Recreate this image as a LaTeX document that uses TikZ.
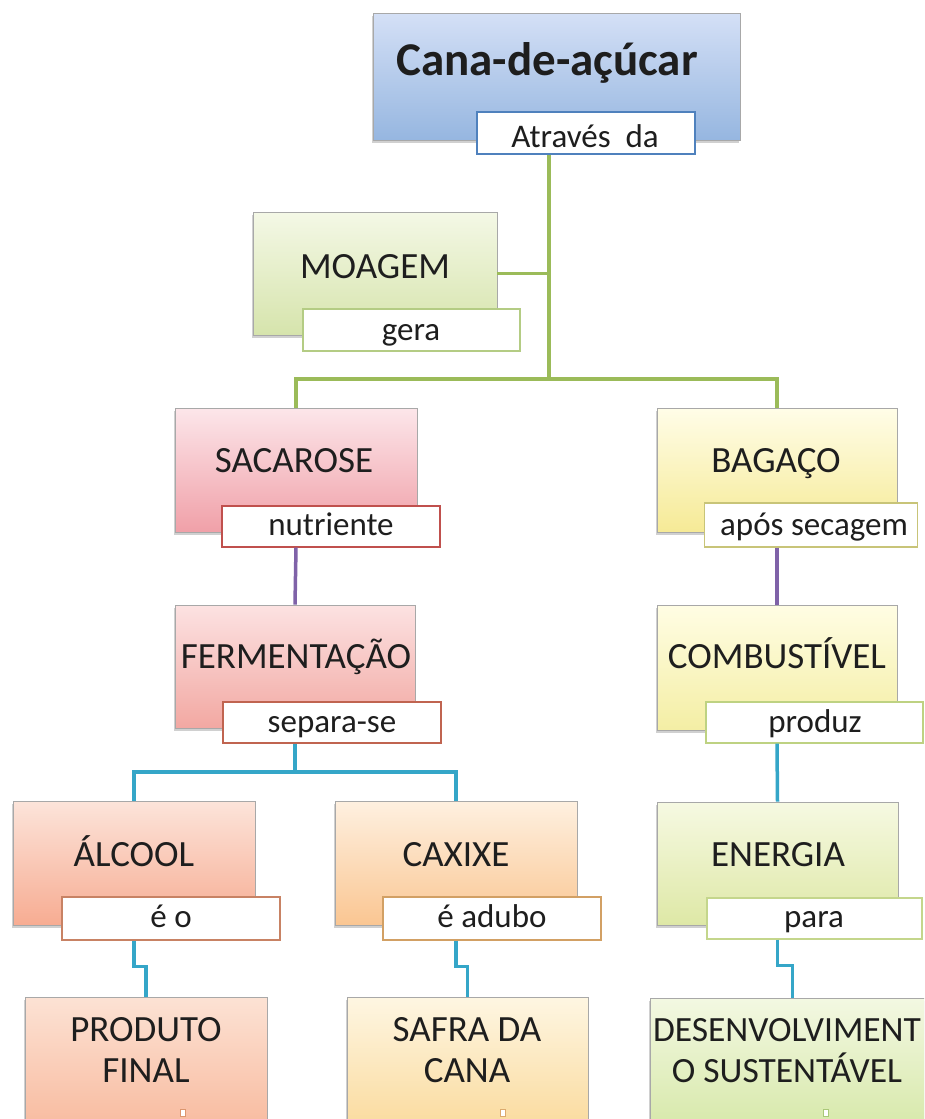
\documentclass[tikz,border=0pt]{standalone}
\usepackage{fontspec}
\setmainfont{Carlito}
\usetikzlibrary{shadows,calc}
\definecolor{boxgray}{HTML}{A8A8A8}
\definecolor{txtc}{HTML}{1E1E1E}
\definecolor{gline}{HTML}{9BBB59}
\definecolor{pline}{HTML}{7F62A8}
\definecolor{cline}{HTML}{35A6C8}
\begin{document}
\begin{tikzpicture}[x=1pt,y=-1pt,
  mbox/.style={rectangle, draw=boxgray, line width=0.9pt, inner sep=0pt,
    drop shadow={shadow xshift=-1.5pt, shadow yshift=-2.5pt, opacity=0.3, fill=black!60}},
  lbox/.style={rectangle, fill=white, line width=1.2pt, inner sep=0pt,
    minimum width=218pt, minimum height=42pt},
  txt/.style={font=\fontsize{37}{41}\selectfont, text=txtc, anchor=base, inner sep=0pt, align=center},
  ltxt/.style={font=\fontsize{33}{38}\selectfont, text=txtc, anchor=base, inner sep=0pt},
  conn/.style={line width=3.5pt},
  tinybox/.style={fill=white, line width=0.8pt, minimum width=5pt, minimum height=7pt, inner sep=0pt}]
\clip (0,0) rectangle (924,1119);
\fill[white] (0,0) rectangle (924,1119);

% main boxes
\node[mbox, top color={rgb,255:red,212;green,224;blue,246}, bottom color={rgb,255:red,150;green,182;blue,224}, minimum width=367pt, minimum height=127pt] (cana) at (556.5,76.5) {};
\node[mbox, top color={rgb,255:red,244;green,248;blue,230}, bottom color={rgb,255:red,214;green,228;blue,172}, minimum width=244pt, minimum height=123pt] (moag) at (375,273.5) {};
\node[mbox, top color={rgb,255:red,252;green,230;blue,234}, bottom color={rgb,255:red,240;green,160;blue,168}, minimum width=242pt, minimum height=124pt] (sac) at (296,470) {};
\node[mbox, top color={rgb,255:red,255;green,253;blue,232}, bottom color={rgb,255:red,246;green,234;blue,150}, minimum width=240pt, minimum height=124pt] (bag) at (777,470) {};
\node[mbox, top color={rgb,255:red,252;green,226;blue,226}, bottom color={rgb,255:red,242;green,168;blue,162}, minimum width=240pt, minimum height=123pt] (ferm) at (295,666.5) {};
\node[mbox, top color={rgb,255:red,255;green,253;blue,228}, bottom color={rgb,255:red,244;green,238;blue,164}, minimum width=240pt, minimum height=125pt] (comb) at (777,667.5) {};
\node[mbox, top color={rgb,255:red,252;green,228;blue,218}, bottom color={rgb,255:red,247;green,172;blue,146}, minimum width=242pt, minimum height=124pt] (alc) at (134,863) {};
\node[mbox, top color={rgb,255:red,254;green,240;blue,224}, bottom color={rgb,255:red,250;green,198;blue,146}, minimum width=242pt, minimum height=124pt] (cax) at (456,863) {};
\node[mbox, top color={rgb,255:red,246;green,249;blue,226}, bottom color={rgb,255:red,222;green,232;blue,166}, minimum width=241pt, minimum height=123pt] (ener) at (777.5,863.5) {};
\node[mbox, top color={rgb,255:red,252;green,226;blue,212}, bottom color={rgb,255:red,248;green,186;blue,158}, minimum width=242pt, minimum height=134pt] (prf) at (146,1064) {};
\node[mbox, top color={rgb,255:red,254;green,246;blue,226}, bottom color={rgb,255:red,250;green,218;blue,156}, minimum width=241pt, minimum height=134pt] (saf) at (467.5,1064) {};
\node[mbox, top color={rgb,255:red,243;green,248;blue,226}, bottom color={rgb,255:red,214;green,232;blue,168}, minimum width=285pt, minimum height=134pt] (des) at (792.5,1065) {};

% label boxes
\node[lbox, draw={rgb,255:red,79;green,129;blue,189}] (atr) at (586,133) {};
\node[lbox, draw={rgb,255:red,180;green,204;blue,132}, minimum width=217pt] (gera) at (411.5,330) {};
\node[lbox, draw={rgb,255:red,192;green,80;blue,77}, minimum height=41pt] (nutr) at (331,526.5) {};
\node[lbox, draw={rgb,255:red,200;green,196;blue,120}, minimum width=213pt, minimum height=44pt] (aps) at (811,525) {};
\node[lbox, draw={rgb,255:red,192;green,100;blue,80}, minimum height=41pt] (sep) at (332,722.5) {};
\node[lbox, draw={rgb,255:red,190;green,210;blue,130}, minimum width=217pt, minimum height=41pt] (prod) at (814.5,722.5) {};
\node[lbox, draw={rgb,255:red,200;green,130;blue,100}, minimum height=43pt] (eo) at (171,918.5) {};
\node[lbox, draw={rgb,255:red,210;green,160;blue,100}, minimum height=43pt] (ead) at (492,918.5) {};
\node[lbox, draw={rgb,255:red,196;green,214;blue,140}, minimum width=215pt, minimum height=41pt] (para) at (814.5,918.5) {};

% texts
\node[txt, font=\fontsize{47}{52}\selectfont\bfseries] at (547,75) {Cana-de-açúcar};
\node[ltxt] at (585,147) {Através\ \ da};
\node[txt] at (375,278) {MOAGEM};
\node[ltxt] at (411,340) {gera};
\node[txt] at (294,472) {SACAROSE};
\node[ltxt] at (331,535) {nutriente};
\node[txt] at (776,472) {BAGAÇO};
\node[ltxt] at (814,535) {após secagem};
\node[txt] at (296,668) {FERMENTAÇÃO};
\node[ltxt] at (332,732) {separa-se};
\node[txt] at (777,668) {COMBUSTÍVEL};
\node[ltxt] at (815,732) {produz};
\node[txt] at (134,866) {ÁLCOOL};
\node[ltxt] at (171,927) {é o};
\node[txt] at (456,866) {CAXIXE};
\node[ltxt] at (492,927) {é adubo};
\node[txt] at (778,866) {ENERGIA};
\node[ltxt] at (814,927) {para};
\node[txt] at (146,1082) {PRODUTO\\FINAL};
\node[txt] at (467,1082) {SAFRA DA\\CANA};
\node[txt, font=\fontsize{35.5}{41}\selectfont] at (787,1082) {DESENVOLVIMENT\\O SUSTENTÁVEL};

% tiny marks
\node[tinybox, draw={rgb,255:red,220;green,150;blue,110}] (m1) at (183,1113) {};
\node[tinybox, draw={rgb,255:red,220;green,170;blue,110}] (m2) at (503,1113) {};
\node[tinybox, draw={rgb,255:red,170;green,200;blue,120}] (m3) at (826,1113) {};

% connectors
\coordinate (hb) at (549,379);
\coordinate (hc) at (295,772);
\draw[conn, gline] (hb |- atr.south) -- (hb);
\draw[conn, gline] (moag.east) -- (moag.east -| hb);
\draw[conn, gline] (sac.north) |- (hb) -| (bag.north);
\draw[conn, pline] (nutr.south -| sac.north) -- (ferm.north);
\draw[conn, pline] (aps.south -| bag.north) -- (comb.north);
\draw[conn, cline] (sep.south -| ferm.north) -- (hc);
\draw[conn, cline] (alc.north) |- (hc) -| (cax.north);
\draw[conn, cline] (prod.south -| comb.north) -- (ener.north);
\draw[conn, cline] (eo.south -| alc.north) -- ++(0,26) -| (prf.north);
\draw[conn, cline] (ead.south -| cax.north) -- ++(0,26) -| (saf.north);
\draw[conn, cline] (para.south -| ener.north) -- ++(0,26) -| (des.north);
\end{tikzpicture}
\end{document}
